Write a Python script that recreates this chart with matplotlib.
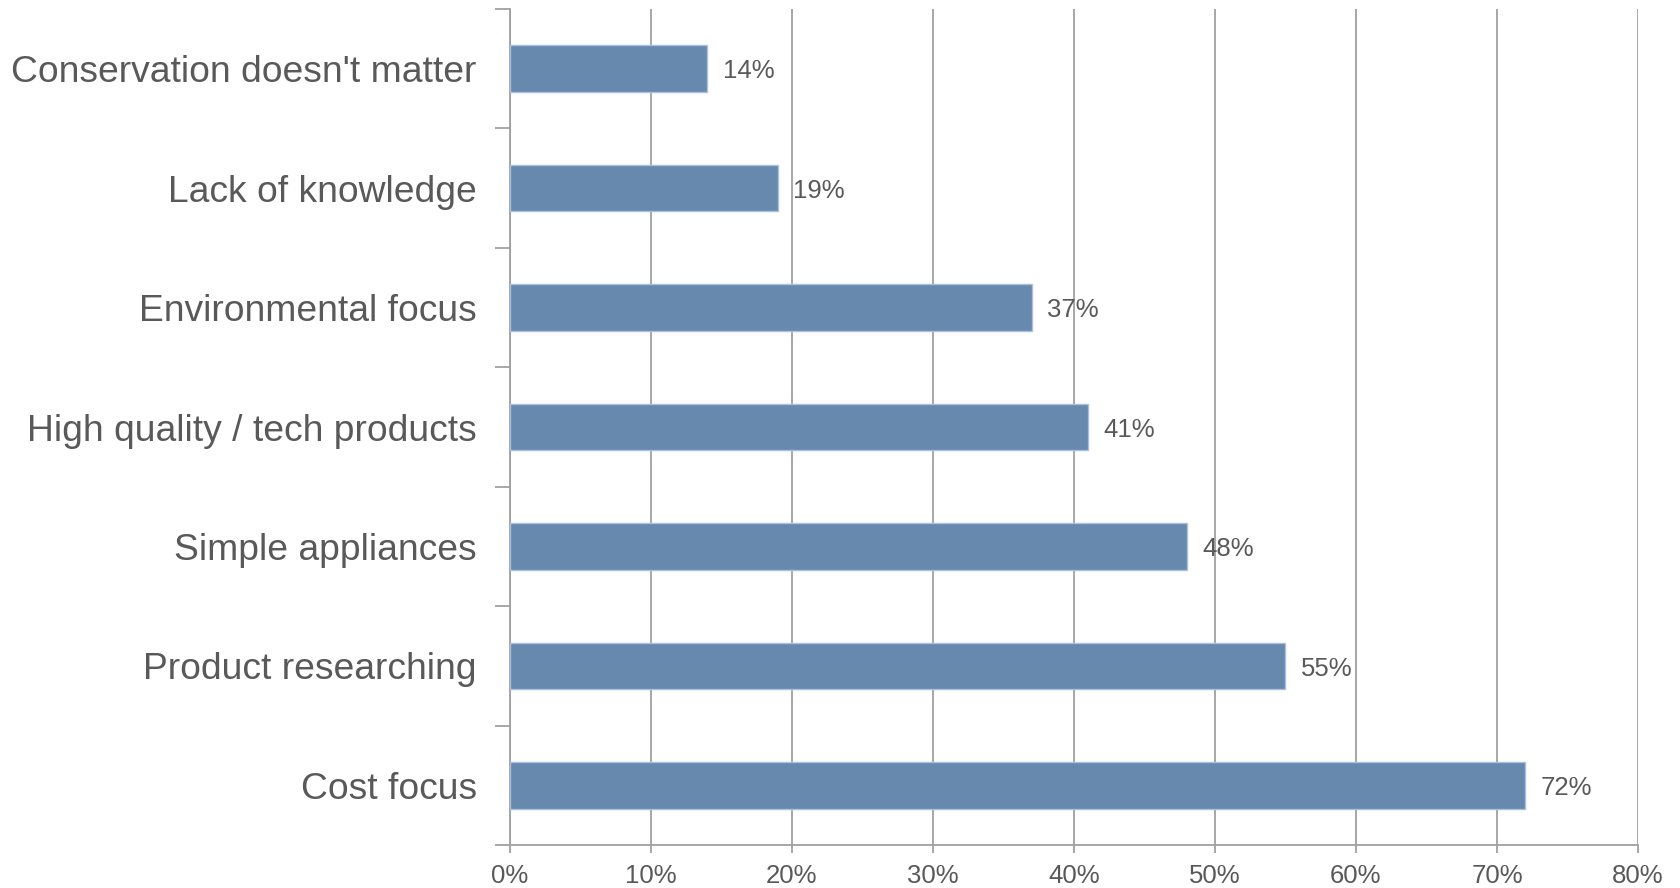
import matplotlib
matplotlib.use("Agg")
import matplotlib.pyplot as plt
from matplotlib.ticker import FixedLocator, PercentFormatter

plt.rcParams['font.family'] = ['Liberation Sans', 'DejaVu Sans']

categories = [
    "Conservation doesn't matter",
    "Lack of knowledge",
    "Environmental focus",
    "High quality / tech products",
    "Simple appliances",
    "Product researching",
    "Cost focus",
]
values = [14, 19, 37, 41, 48, 55, 72]
x_ticks = [0, 10, 20, 30, 40, 50, 60, 70, 80]

bar_color = "#6689ad"
edge_color = "#a9c1dc"
axis_gray = "#a0a0a0"
text_gray = "#595959"

fig = plt.figure(figsize=(16.8, 8.88), dpi=100)
ax = fig.add_axes([510 / 1680, 1 - 845 / 888, (1638 - 510) / 1680, (845 - 9) / 888])

n = len(categories)
ypos = [n - 1 - i for i in range(n)]
ax.barh(ypos, values, height=0.39, color=bar_color, edgecolor=edge_color,
        linewidth=1.0, zorder=3)

for y, v in zip(ypos, values):
    ax.annotate(f"{v}%", xy=(v, y), xytext=(11, -2), textcoords="offset points",
                va="center", ha="left", fontsize=18.5, color=text_gray, zorder=4)

ax.set_xlim(0, 80)
ax.set_ylim(-0.5, n - 0.5)

ax.xaxis.set_major_locator(FixedLocator(x_ticks))
ax.xaxis.set_major_formatter(PercentFormatter(decimals=0))
ax.grid(axis="x", color=axis_gray, linewidth=1.3, zorder=0)
ax.set_axisbelow(True)

ax.set_yticks(ypos)
ax.set_yticklabels(categories)
ax.set_yticks([i - 0.5 for i in range(n + 1)], minor=True)

ax.tick_params(axis="y", which="major", length=0, pad=24, labelsize=26.8,
               labelcolor=text_gray)
ax.tick_params(axis="y", which="minor", length=11, width=1.3, color=axis_gray,
               direction="out")
ax.tick_params(axis="x", which="major", length=6, width=1.3, color=axis_gray,
               labelsize=18.5, labelcolor=text_gray, pad=8)

for side in ("top", "right"):
    ax.spines[side].set_visible(False)
for side in ("left", "bottom"):
    ax.spines[side].set_color(axis_gray)
    ax.spines[side].set_linewidth(1.3)

fig.savefig("out.png", dpi=100, facecolor="white")
